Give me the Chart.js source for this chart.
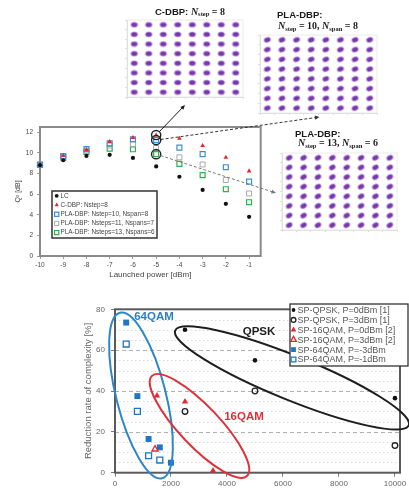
<!DOCTYPE html>
<html><head><meta charset="utf-8">
<script src="https://cdn.jsdelivr.net/npm/chart.js@4.4.1/dist/chart.umd.min.js"></script>
<style>
html,body{margin:0;padding:0;background:#fff;}
#wrap{position:relative;width:409px;height:493px;overflow:hidden;background:#fff;}
canvas{position:absolute;}
</style></head><body>
<div id="wrap">
<canvas id="p1"></canvas><canvas id="p2"></canvas><canvas id="p3"></canvas>
<canvas id="topChart"></canvas><canvas id="bottomChart"></canvas>
</div>
<script>
// ================= DATA =================
// Top chart: Q^2 vs launched power
const launchPower = [-10, -9, -8, -7, -6, -5, -4, -3, -2, -1];
const q2LC    = [8.8, 9.28, 9.7, 9.8, 9.5, 8.68, 7.68, 6.4, 5.06, 3.8];
const q2CDBP  = [8.9, 9.72, 10.3, 11.07, 11.47, 11.7, 11.4, 10.7, 9.55, 8.23];
const q2PLA10 = [8.85, 9.68, 10.36, 10.92, 11.3, 11.23, 10.5, 9.87, 8.6, 7.2];
const q2PLA11 = [8.85, 9.6, 10.2, 10.7, 10.86, 10.47, 9.56, 8.87, 7.36, 6.06];
const q2PLA13 = [8.82, 9.55, 10.08, 10.4, 10.34, 9.87, 8.92, 7.84, 6.47, 5.21];
const highlightPower = [-5, -5, -5];
const highlightQ2 = [11.72, 11.23, 9.87];
const topLegendLabels = ['LC', 'C-DBP: Nstep=8', 'PLA-DBP: Nstep=10, Nspan=8',
  'PLA-DBP: Nsteps=11, Nspans=7', 'PLA-DBP: Nsteps=13, Nspans=6'];
const powerTicks = [-10, -9, -8, -7, -6, -5, -4, -3, -2, -1];
const q2Ticks = [0, 2, 4, 6, 8, 10, 12];
const topXTitle = 'Launched power [dBm]';
const topYTitle = 'Q² [dB]';

// Constellation panels (ideal 64QAM levels)
const constellationLevels = [-7, -5, -3, -1, 1, 3, 5, 7];
const panelTitles = [
  [[['C-DBP: ', 'sans'], ['N', 'mathit'], ['step', 'sub'], [' = 8', 'math']]],
  [[['PLA-DBP:', 'sans']], [['N', 'mathit'], ['step', 'sub'], [' = 10, ', 'math'], ['N', 'mathit'], ['span', 'sub'], [' = 8', 'math']]],
  [[['PLA-DBP:', 'sans']], [['N', 'mathit'], ['step', 'sub'], [' = 13, ', 'math'], ['N', 'mathit'], ['span', 'sub'], [' = 6', 'math']]]
];

// Bottom chart: reduction rate of complexity
const qpsk0X = [2500, 5000, 10000];   const qpsk0Y = [70, 55, 36.5];
const qpsk3X = [2500, 5000, 10000];   const qpsk3Y = [30, 40, 13.3];
const qam16P0X = [1500, 2500, 3500];  const qam16P0Y = [37.7, 34.8, 1];
const qam16P3X = [1430];              const qam16P3Y = [11.5];
const qam64M3X = [400, 800, 1200, 1600, 2000]; const qam64M3Y = [73.5, 37.5, 16.5, 12.4, 4.9];
const qam64M1X = [400, 800, 1200, 1600];       const qam64M1Y = [63, 30, 8.3, 6.2];
const bottomLegendLabels = ['SP-QPSK, P=0dBm [1]', 'SP-QPSK, P=3dBm [1]', 'SP-16QAM, P=0dBm [2]',
  'SP-16QAM, P=3dBm [2]', 'SP-64QAM, P=-3dBm', 'SP-64QAM, P=-1dBm'];
const complexityTicks = [0, 2000, 4000, 6000, 8000, 10000];
const reductionTicks = [0, 20, 40, 60, 80];
const bottomYTitle = 'Reduction rate of complexity [%]';
// group annotations (data units)
const groupNames = ['64QAM', '16QAM', 'QPSK'];
const groupLabelX = [1393, 4607, 5143];
const groupLabelY = [76.3, 27.3, 69];
const groupCenterX = [929, 3018, 6321];
const groupCenterY = [37.8, 22.9, 46.4];
const groupTipX = [179, 1321, 2150];
const groupTipY = [78.3, 47.4, 69.6];
const groupAspect = [0.29, 0.29, 0.175];

// ================= HELPERS =================
const FONT = "'Liberation Sans', Arial, sans-serif";
const SERIF = "'Liberation Serif', 'DejaVu Serif', serif";
const toXY = (xs, ys) => xs.map((x, i) => ({x: x, y: ys[i]}));
const plainLabel = v => String(v);

function setupCanvas(id, left, top, w, h) {
  const c = document.getElementById(id);
  c.width = w; c.height = h;
  c.style.left = left + 'px'; c.style.top = top + 'px';
  c.style.width = w + 'px'; c.style.height = h + 'px';
  return c;
}

function drawMarker(ctx, style, x, y, r, fill, stroke, bw) {
  ctx.save();
  ctx.beginPath();
  if (style === 'circle') {
    ctx.arc(x, y, r, 0, Math.PI * 2);
  } else if (style === 'triangle') {
    for (let k = 0; k < 3; k++) {
      const a = k * 2 * Math.PI / 3;
      const px = x + Math.sin(a) * r, py = y - Math.cos(a) * r;
      if (k === 0) ctx.moveTo(px, py); else ctx.lineTo(px, py);
    }
    ctx.closePath();
  } else {
    const s = r * Math.SQRT1_2;
    ctx.rect(x - s, y - s, 2 * s, 2 * s);
  }
  if (fill) { ctx.fillStyle = fill; ctx.fill(); }
  if (bw) { ctx.lineWidth = bw; ctx.strokeStyle = stroke; ctx.stroke(); }
  ctx.restore();
}

function drawArrow(ctx, x1, y1, x2, y2, color, dash, width, head) {
  ctx.save();
  ctx.strokeStyle = color; ctx.fillStyle = color; ctx.lineWidth = width;
  const ang = Math.atan2(y2 - y1, x2 - x1);
  ctx.setLineDash(dash);
  ctx.beginPath();
  ctx.moveTo(x1, y1);
  ctx.lineTo(x2 - Math.cos(ang) * head * 0.7, y2 - Math.sin(ang) * head * 0.7);
  ctx.stroke();
  ctx.setLineDash([]);
  ctx.beginPath();
  ctx.moveTo(x2, y2);
  ctx.lineTo(x2 - head * Math.cos(ang - 0.42), y2 - head * Math.sin(ang - 0.42));
  ctx.lineTo(x2 - head * Math.cos(ang + 0.42), y2 - head * Math.sin(ang + 0.42));
  ctx.closePath();
  ctx.fill();
  ctx.restore();
}

const partFonts = {
  sans: 'bold 9.5px ' + FONT,
  mathit: 'italic bold 10px ' + SERIF,
  sub: 'bold 6.5px ' + SERIF,
  math: 'bold 10px ' + SERIF
};
function drawRichLine(ctx, x, y, parts) {
  ctx.save();
  ctx.fillStyle = '#1a1a1a';
  ctx.textBaseline = 'middle';
  ctx.textAlign = 'left';
  let cx = x;
  parts.forEach(p => {
    ctx.font = partFonts[p[1]];
    ctx.fillText(p[0], cx, p[1] === 'sub' ? y + 2.5 : y);
    cx += ctx.measureText(p[0]).width;
  });
  ctx.restore();
}

function makeBlob() {
  const c = document.createElement('canvas');
  c.width = 9; c.height = 7;
  const g = c.getContext('2d');
  g.fillStyle = 'rgba(165,115,215,0.45)';
  g.beginPath(); g.ellipse(4.5, 3.5, 3.9, 2.9, 0, 0, Math.PI * 2); g.fill();
  g.fillStyle = 'rgba(115,50,170,0.95)';
  g.beginPath(); g.ellipse(4.5, 3.5, 3.0, 2.2, 0, 0, Math.PI * 2); g.fill();
  return c;
}

Chart.defaults.font.family = FONT;

// ================= CONSTELLATION PANELS =================
const panelLayout = [
  {id: 'p1', left: 115, top: 0, width: 140, height: 108, pad: {left: 12, top: 20, right: 12, bottom: 11}, rot: 0,
   lines: [{dx: 28, dy: -8}]},
  {id: 'p2', left: 250, top: 0, width: 140, height: 122, pad: {left: 10, top: 35, right: 13, bottom: 9}, rot: -20,
   lines: [{dx: 17, dy: -20}, {dx: 18, dy: -8.3}]},
  {id: 'p3', left: 270, top: 122, width: 139, height: 118, pad: {left: 12, top: 31, right: 12, bottom: 10}, rot: -30,
   lines: [{dx: 13, dy: -19}, {dx: 16, dy: -9.5}]}
];
const constellationPoints = constellationLevels.flatMap(i => constellationLevels.map(q => ({x: i, y: q})));
const blob = makeBlob();

const panelCharts = panelLayout.map((pl, idx) => {
  const cv = setupCanvas(pl.id, pl.left, pl.top, pl.width, pl.height);
  const panelAxis = (hor) => ({
    type: 'linear', min: -8, max: 8,
    ticks: {display: false, stepSize: 2},
    grid: {drawOnChartArea: false, drawTicks: true, tickLength: 2, color: '#c4c4c4', lineWidth: 0.6},
    border: {display: true, color: '#d4d4d4', width: 0.8},
    afterFit: s => { if (hor) s.height = 0; else s.width = 0; }
  });
  return new Chart(cv, {
    type: 'scatter',
    data: {datasets: [{
      data: constellationPoints,
      pointStyle: blob, radius: 3, rotation: pl.rot,
      backgroundColor: 'rgba(112,45,165,0.9)', borderWidth: 0, clip: false
    }]},
    options: {
      responsive: false, animation: false, devicePixelRatio: 1,
      layout: {padding: pl.pad},
      plugins: {legend: {display: false}, tooltip: {enabled: false}},
      scales: {x: panelAxis(true), y: panelAxis(false)}
    },
    plugins: [{
      id: 'panelDecor',
      beforeDatasetsDraw(chart) {
        const ca = chart.chartArea, ctx = chart.ctx;
        ctx.save();
        ctx.strokeStyle = '#e6e6e6'; ctx.lineWidth = 0.8;
        ctx.strokeRect(ca.left, ca.top, ca.right - ca.left, ca.bottom - ca.top);
        ctx.restore();
      },
      afterDraw(chart) {
        const ca = chart.chartArea;
        panelTitles[idx].forEach((parts, li) => {
          drawRichLine(chart.ctx, ca.left + pl.lines[li].dx, ca.top + pl.lines[li].dy, parts);
        });
      }
    }]
  });
});

function panelArea(i) {
  const pl = panelLayout[i], ca = panelCharts[i].chartArea;
  return {left: pl.left + ca.left, right: pl.left + ca.right, top: pl.top + ca.top, bottom: pl.top + ca.bottom};
}

// ================= TOP CHART =================
const topStyles = [
  {data: q2LC,    style: 'circle',   r: 2.1, fill: '#111111', stroke: '#111111', bw: 0},
  {data: q2CDBP,  style: 'triangle', r: 2.7, fill: '#e8232b', stroke: '#e8232b', bw: 0},
  {data: q2PLA10, style: 'rect',     r: 3.5, fill: 'rgba(255,255,255,0)', stroke: '#3d8fd8', bw: 1.2},
  {data: q2PLA11, style: 'rect',     r: 3.5, fill: 'rgba(255,255,255,0)', stroke: '#a9a9a9', bw: 1},
  {data: q2PLA13, style: 'rect',     r: 3.5, fill: 'rgba(255,255,255,0)', stroke: '#2db24d', bw: 1.2}
];
const topDatasets = topStyles.map((s, i) => ({
  label: topLegendLabels[i],
  data: toXY(launchPower, s.data),
  pointStyle: s.style, radius: s.r,
  backgroundColor: s.fill, borderColor: s.stroke, borderWidth: s.bw, clip: false
}));
topDatasets.push({
  label: 'highlight', data: toXY(highlightPower, highlightQ2),
  pointStyle: 'circle', radius: 4.6, backgroundColor: 'rgba(0,0,0,0)',
  borderColor: '#222', borderWidth: 1.4, clip: false, order: -1
});

const topCanvas = setupCanvas('topChart', 0, 0, 409, 285);
topCanvas.style.pointerEvents = 'none';
const topChart = new Chart(topCanvas, {
  type: 'scatter',
  data: {datasets: topDatasets},
  options: {
    responsive: false, animation: false, devicePixelRatio: 1,
    layout: {padding: {left: 9.8, top: 127, right: 148.3, bottom: 1.2}},
    plugins: {legend: {display: false}, tooltip: {enabled: false}},
    scales: {
      x: {
        type: 'linear', min: -10, max: -0.5,
        afterBuildTicks: s => { s.ticks = powerTicks.map(v => ({value: v})); },
        afterFit: s => { s.height = 27.8; },
        grid: {drawOnChartArea: false, drawTicks: true, tickLength: 3, color: '#9a9a9a'},
        border: {display: false},
        ticks: {font: {size: 6.5}, color: '#444', padding: 2, maxRotation: 0, autoSkip: false, callback: plainLabel},
        title: {display: true, text: topXTitle, font: {size: 8}, color: '#444', padding: {top: 2, bottom: 4}}
      },
      y: {
        type: 'linear', min: 0, max: 12.5,
        afterBuildTicks: s => { s.ticks = q2Ticks.map(v => ({value: v})); },
        afterFit: s => { s.width = 30.2; },
        grid: {drawOnChartArea: false, drawTicks: true, tickLength: 3, color: '#9a9a9a'},
        border: {display: false},
        ticks: {font: {size: 6.5}, color: '#444', padding: 4, callback: plainLabel},
        title: {display: true, text: topYTitle, font: {size: 7}, color: '#444', padding: {top: 4, bottom: 4}}
      }
    }
  },
  plugins: [{
    id: 'topDecor',
    beforeDatasetsDraw(chart) {
      const ca = chart.chartArea, ctx = chart.ctx;
      ctx.save();
      ctx.strokeStyle = '#8a8a8a'; ctx.lineWidth = 2;
      ctx.strokeRect(ca.left, ca.top, ca.right - ca.left, ca.bottom - ca.top);
      ctx.restore();
    },
    afterDraw(chart) {
      const ca = chart.chartArea, ctx = chart.ctx;
      const bx = ca.left + 12, by = ca.top + 64, bw = 105, bh = 47;
      ctx.save();
      ctx.fillStyle = '#fff'; ctx.fillRect(bx, by, bw, bh);
      ctx.strokeStyle = '#333'; ctx.lineWidth = 1.5; ctx.strokeRect(bx, by, bw, bh);
      ctx.font = '6.4px ' + FONT; ctx.fillStyle = '#444'; ctx.textBaseline = 'middle';
      topStyles.forEach((s, i) => {
        const ry = by + 4.8 + i * 9.2;
        drawMarker(ctx, s.style, bx + 4.7, ry, s.style === 'rect' ? 3 : s.r * 0.9, s.fill, s.stroke, s.bw);
        ctx.fillStyle = '#444';
        ctx.fillText(topLegendLabels[i], bx + 8.5, ry);
      });
      ctx.restore();
      const xs = chart.scales.x, ys = chart.scales.y;
      const hp = highlightPower.map(v => xs.getPixelForValue(v));
      const hq = highlightQ2.map(v => ys.getPixelForValue(v));
      const a1 = panelArea(0), a2 = panelArea(1), a3 = panelArea(2);
      const ends = [
        {x: (a1.left + a1.right) / 2, y: a1.bottom + 8, color: '#1a1a1a', dash: [], w: 1},
        {x: (a2.left + a2.right) / 2 + 1, y: a2.bottom + 4, color: '#333', dash: [3, 2], w: 1},
        {x: a3.left - 6, y: (a3.top + a3.bottom) / 2 + 1.5, color: '#777', dash: [3, 2], w: 1}
      ];
      ends.forEach((e, i) => {
        const ang = Math.atan2(e.y - hq[i], e.x - hp[i]);
        const sx = hp[i] + Math.cos(ang) * 4.6, sy = hq[i] + Math.sin(ang) * 4.6;
        drawArrow(ctx, sx, sy, e.x, e.y, e.color, e.dash, e.w, 5);
      });
    }
  }]
});

// ================= BOTTOM CHART =================
const bottomStyles = [
  {xs: qpsk0X, ys: qpsk0Y, style: 'circle', r: 2.3, fill: '#111', stroke: '#111', bw: 0},
  {xs: qpsk3X, ys: qpsk3Y, style: 'circle', r: 2.8, fill: 'rgba(255,255,255,0)', stroke: '#222', bw: 1.3},
  {xs: qam16P0X, ys: qam16P0Y, style: 'triangle', r: 3.6, fill: '#e02a30', stroke: '#e02a30', bw: 0},
  {xs: qam16P3X, ys: qam16P3Y, style: 'triangle', r: 3.6, fill: 'rgba(255,255,255,0)', stroke: '#e02a30', bw: 1.3},
  {xs: qam64M3X, ys: qam64M3Y, style: 'rect', r: 4.2, fill: '#1f74c4', stroke: '#1f74c4', bw: 0},
  {xs: qam64M1X, ys: qam64M1Y, style: 'rect', r: 4.2, fill: 'rgba(255,255,255,0)', stroke: '#1f74c4', bw: 1.3}
];
const bottomDatasets = bottomStyles.map((s, i) => ({
  label: bottomLegendLabels[i],
  data: toXY(s.xs, s.ys),
  pointStyle: s.style, radius: s.r,
  backgroundColor: s.fill, borderColor: s.stroke, borderWidth: s.bw, clip: false
}));
const groupColors = ['#2d86c8', '#e0303a', '#1e1e1e'];
const groupTextColors = ['#2d7fc4', '#e0303a', '#1e1e1e'];

const bottomCanvas = setupCanvas('bottomChart', 0, 290, 409, 203);
const bottomChart = new Chart(bottomCanvas, {
  type: 'scatter',
  data: {datasets: bottomDatasets},
  options: {
    responsive: false, animation: false, devicePixelRatio: 1,
    layout: {padding: {left: 78.3, top: 19.3, right: 9, bottom: 0}},
    plugins: {legend: {display: false}, tooltip: {enabled: false}},
    scales: {
      x: {
        type: 'linear', min: 0, max: 10180,
        afterBuildTicks: s => { s.ticks = complexityTicks.map(v => ({value: v})); },
        afterFit: s => { s.height = 20.3; },
        grid: {drawOnChartArea: false, drawTicks: true, tickLength: 4, color: '#777'},
        border: {display: false},
        ticks: {font: {size: 8}, color: '#666', padding: 2, maxRotation: 0, autoSkip: false, callback: plainLabel}
      },
      y: {
        type: 'linear', min: 0, max: 80,
        afterBuildTicks: s => { s.ticks = reductionTicks.map(v => ({value: v})); },
        afterFit: s => { s.width = 36.7; },
        grid: {drawOnChartArea: false, drawTicks: true, tickLength: 4, color: '#777'},
        border: {display: false},
        ticks: {font: {size: 8}, color: '#666', padding: 6, callback: plainLabel},
        title: {display: true, text: bottomYTitle, font: {size: 9.5}, color: '#666', padding: {top: 4, bottom: 4}}
      }
    }
  },
  plugins: [{
    id: 'bottomDecor',
    beforeDatasetsDraw(chart) {
      const ca = chart.chartArea, ctx = chart.ctx, ys = chart.scales.y;
      ctx.save();
      for (let v = 5; v < 80; v += 5) {
        const py = Math.round(ys.getPixelForValue(v)) + 0.5;
        const major = v % 20 === 0;
        ctx.strokeStyle = major ? '#b0b0b0' : '#dadada';
        ctx.lineWidth = 1;
        ctx.setLineDash(major ? [4, 3] : [1.5, 2.5]);
        ctx.beginPath(); ctx.moveTo(ca.left, py); ctx.lineTo(ca.right, py); ctx.stroke();
      }
      ctx.setLineDash([]);
      ctx.strokeStyle = '#5a5a5a'; ctx.lineWidth = 2;
      ctx.strokeRect(ca.left, ca.top, ca.right - ca.left, ca.bottom - ca.top);
      ctx.restore();
    },
    afterDatasetsDraw(chart) {
      const ca = chart.chartArea, ctx = chart.ctx, xs = chart.scales.x, ys = chart.scales.y;
      ctx.save();
      groupNames.forEach((n, i) => {
        const cx = xs.getPixelForValue(groupCenterX[i]), cy = ys.getPixelForValue(groupCenterY[i]);
        const tx = xs.getPixelForValue(groupTipX[i]), ty = ys.getPixelForValue(groupTipY[i]);
        const a = Math.hypot(tx - cx, ty - cy), ang = Math.atan2(ty - cy, tx - cx);
        ctx.strokeStyle = groupColors[i]; ctx.lineWidth = 2;
        ctx.beginPath(); ctx.ellipse(cx, cy, a, a * groupAspect[i], ang, 0, Math.PI * 2); ctx.stroke();
      });
      ctx.font = 'bold 11.5px ' + FONT; ctx.textAlign = 'center'; ctx.textBaseline = 'middle';
      groupNames.forEach((n, i) => {
        ctx.fillStyle = groupTextColors[i];
        ctx.fillText(n, xs.getPixelForValue(groupLabelX[i]), ys.getPixelForValue(groupLabelY[i]));
      });
      const bx = ca.right - 110, by = ca.top - 5.3, bw = 118, bh = 62;
      ctx.fillStyle = '#fff'; ctx.fillRect(bx, by, bw, bh);
      ctx.strokeStyle = '#333'; ctx.lineWidth = 1.3; ctx.strokeRect(bx, by, bw, bh);
      ctx.font = '9px ' + FONT; ctx.textAlign = 'left';
      bottomStyles.forEach((s, i) => {
        const ry = by + 6 + i * 9.9;
        const rr = s.style === 'circle' ? (s.bw ? 2.4 : 1.9) : (s.style === 'rect' ? 3.4 : 3.3);
        drawMarker(ctx, s.style, bx + 3.5, ry, rr, s.fill, s.stroke, s.bw);
        ctx.fillStyle = '#555';
        ctx.fillText(bottomLegendLabels[i], bx + 7.5, ry + 0.5);
      });
      ctx.restore();
    }
  }]
});
</script>
</body></html>
